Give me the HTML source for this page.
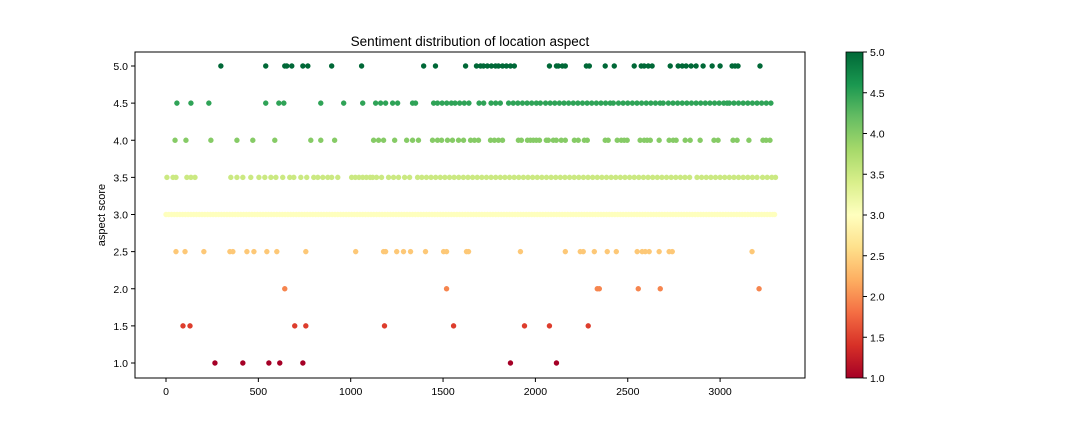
<!DOCTYPE html>
<html><head><meta charset="utf-8"><style>
body{margin:0;background:#fff;}
svg{display:block;font-family:"Liberation Sans",sans-serif;}
</style></head><body>
<svg id="chart" width="1080" height="432">
<defs><linearGradient id="cmap" x1="0" y1="1" x2="0" y2="0">
<stop offset="0" stop-color="#a50026"/><stop offset="0.1" stop-color="#d73027"/><stop offset="0.2" stop-color="#f46d43"/><stop offset="0.3" stop-color="#fdae61"/><stop offset="0.4" stop-color="#fee08b"/><stop offset="0.5" stop-color="#ffffbf"/><stop offset="0.6" stop-color="#d9ef8b"/><stop offset="0.7" stop-color="#a6d96a"/><stop offset="0.8" stop-color="#66bd63"/><stop offset="0.9" stop-color="#1a9850"/><stop offset="1" stop-color="#006837"/>
</linearGradient></defs>
<text x="470" y="46" font-size="13.5" text-anchor="middle">Sentiment distribution of location aspect</text>
<g id="points"></g>
<rect x="135" y="52" width="670" height="326" fill="none" stroke="#000" stroke-width="1"/>
<g id="xticks"></g>
<g id="yticks"></g>
<text transform="translate(105,215) rotate(-90)" font-size="11" text-anchor="middle">aspect score</text>
<rect x="846" y="52" width="17" height="326" fill="url(#cmap)" stroke="#000" stroke-width="0.8"/>
<g id="cbticks"></g>
</svg>
<script>
const xTicks=[0,500,1000,1500,2000,2500,3000];
const yTicks=[1.0,1.5,2.0,2.5,3.0,3.5,4.0,4.5,5.0];
const levels=[1.0,1.5,2.0,2.5,3.0,3.5,4.0,4.5,5.0];
const row10=[265,416,557,616,741,1865,2114];
const row15=[92,130,697,757,1183,1557,1941,2076,2286];
const row20=[643,1519,2335,2346,2557,2676,3211];
const row25=[54,103,205,346,362,438,476,546,600,757,1027,1178,1189,1249,1286,1324,1405,1503,1519,1627,1638,1919,2162,2243,2259,2319,2389,2438,2551,2578,2595,2616,2670,2724,2741,3173];
const row30=[0,15,30,45,60,75,90,105,120,135,150,165,180,195,210,225,240,255,270,285,300,315,330,345,360,375,390,405,420,435,450,465,480,495,510,525,540,555,570,585,600,615,630,645,660,675,690,705,720,735,750,765,780,795,810,825,840,855,870,885,900,915,930,945,960,975,990,1005,1020,1035,1050,1065,1080,1095,1110,1125,1140,1155,1170,1185,1200,1215,1230,1245,1260,1275,1290,1305,1320,1335,1350,1365,1380,1395,1410,1425,1440,1455,1470,1485,1500,1515,1530,1545,1560,1575,1590,1605,1620,1635,1650,1665,1680,1695,1710,1725,1740,1755,1770,1785,1800,1815,1830,1845,1860,1875,1890,1905,1920,1935,1950,1965,1980,1995,2010,2025,2040,2055,2070,2085,2100,2115,2130,2145,2160,2175,2190,2205,2220,2235,2250,2265,2280,2295,2310,2325,2340,2355,2370,2385,2400,2415,2430,2445,2460,2475,2490,2505,2520,2535,2550,2565,2580,2595,2610,2625,2640,2655,2670,2685,2700,2715,2730,2745,2760,2775,2790,2805,2820,2835,2850,2865,2880,2895,2910,2925,2940,2955,2970,2985,3000,3015,3030,3045,3060,3075,3090,3105,3120,3135,3150,3165,3180,3195,3210,3225,3240,3255,3270,3285,3295];
const row35=[5,38,54,113,135,157,351,384,416,459,503,535,568,595,632,670,692,730,762,800,822,849,876,897,930,1005,1025,1045,1065,1085,1105,1119,1140,1167,1205,1232,1259,1292,1319,1362,1385,1410,1435,1460,1485,1510,1535,1560,1585,1610,1635,1660,1685,1710,1735,1760,1785,1810,1835,1860,1885,1910,1935,1960,1985,2010,2035,2060,2085,2110,2135,2160,2185,2210,2235,2260,2285,2310,2335,2360,2385,2410,2435,2460,2485,2510,2535,2560,2585,2610,2635,2660,2685,2710,2735,2760,2785,2810,2835,2875,2900,2925,2950,2975,3000,3025,3050,3075,3100,3125,3150,3175,3200,3230,3255,3280,3300];
const row40=[49,108,243,384,470,589,784,838,913,1124,1151,1178,1238,1303,1335,1367,1443,1470,1492,1524,1551,1584,1611,1649,1670,1692,1757,1778,1800,1822,1908,1924,1957,1973,1989,2005,2022,2059,2070,2097,2113,2140,2162,2211,2232,2265,2281,2378,2394,2443,2465,2481,2497,2567,2589,2605,2622,2670,2724,2746,2762,2811,2838,2892,2967,2989,3070,3092,3156,3232,3249,3270];
const row45=[59,135,232,540,611,638,838,962,1065,1135,1162,1189,1227,1254,1335,1351,1449,1470,1495,1520,1545,1565,1590,1615,1640,1695,1720,1760,1785,1810,1855,1880,1905,1930,1955,1980,2005,2027,2055,2080,2105,2130,2155,2180,2205,2230,2255,2280,2305,2330,2355,2380,2405,2422,2450,2475,2500,2525,2550,2575,2600,2625,2650,2675,2692,2720,2745,2770,2795,2820,2845,2870,2895,2920,2945,2970,2995,3020,3038,3050,3075,3100,3125,3150,3175,3200,3225,3250,3275];
const row50=[297,540,643,654,681,741,768,897,1059,1395,1459,1622,1681,1703,1719,1740,1762,1784,1800,1822,1843,1865,1886,2076,2114,2124,2146,2162,2276,2292,2378,2427,2535,2573,2589,2611,2632,2730,2773,2795,2816,2843,2870,2908,2957,3000,3065,3081,3097,3216];
const rows=[row10,row15,row20,row25,row30,row35,row40,row45,row50];
const colors=["#a50026","#dd3d2d","#f6854e","#fdc877","#feffbe","#cbe982","#86cb66","#2fa357","#006837"];
const NS="http://www.w3.org/2000/svg";
const xs=v=>166+v*0.1847;
const ys=v=>363-(v-1)*74.25;
const cy=v=>378-(v-1)/4*326;
function mk(tag,attrs,parent){const e=document.createElementNS(NS,tag);for(const k in attrs)e.setAttribute(k,attrs[k]);parent.appendChild(e);return e;}
const pg=document.getElementById('points');
rows.forEach((r,i)=>{r.forEach(x=>{
 const c=mk('circle',{cx:xs(x),cy:ys(levels[i]),r:2.7,fill:colors[i]},pg);
 
 
});});
const xg=document.getElementById('xticks');
xTicks.forEach(t=>{
 const l=mk('line',{x1:xs(t),x2:xs(t),y1:378,y2:382,stroke:'#000'},xg);
 
 
 const tx=mk('text',{x:xs(t),y:395,'font-size':10.5,'text-anchor':'middle'},xg);tx.textContent=t;
 
 
});
const yg=document.getElementById('yticks');
yTicks.forEach(t=>{
 const l=mk('line',{x1:131,x2:135,y1:ys(t),y2:ys(t),stroke:'#000'},yg);
 
 
 const tx=mk('text',{x:128,y:ys(t)+4,'font-size':10.5,'text-anchor':'end'},yg);tx.textContent=t.toFixed(1);
 
 
});
const cg=document.getElementById('cbticks');
yTicks.forEach(t=>{
 const l=mk('line',{x1:863,x2:867,y1:cy(t),y2:cy(t),stroke:'#000'},cg);
 
 
 const tx=mk('text',{x:870,y:cy(t)+4,'font-size':10.5},cg);tx.textContent=t.toFixed(1);
 
 
});
</script>
</body></html>
